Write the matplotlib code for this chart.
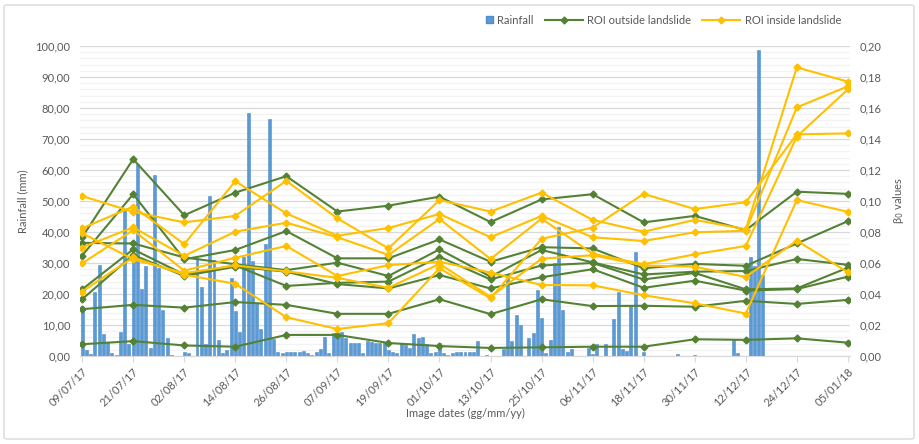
import matplotlib
matplotlib.use('Agg')
import matplotlib.pyplot as plt
from matplotlib.patches import FancyBboxPatch, Patch, Rectangle
from matplotlib.lines import Line2D
from matplotlib.legend_handler import HandlerPatch
from matplotlib.ticker import FuncFormatter, MultipleLocator
import matplotlib.dates as mdates
import pandas as pd

plt.rcParams['font.family'] = ['Lato', 'DejaVu Sans']

# daily rainfall (mm), one value per day from 09/07/2017
rain_start = '2017-07-09'
rainfall = [
    15.0, 2.0, 0.6, 20.8, 29.5, 7.0, 4.5, 1.0, 0.3, 7.6,
    47.0, 4.0, 33.0, 62.0, 21.5, 29.0, 2.5, 58.5, 28.5, 15.0,
    5.7, 0.3, 0.0, 0.0, 1.4, 0.9, 0.0, 31.5, 22.4, 3.9,
    51.6, 31.0, 5.2, 0.9, 1.9, 25.3, 14.6, 7.8, 32.0, 78.3,
    30.6, 17.0, 8.6, 36.0, 76.3, 5.4, 1.4, 0.9, 1.2, 1.4,
    1.4, 1.4, 1.6, 0.9, 0.3, 1.4, 2.1, 6.2, 0.9, 7.5,
    6.8, 7.6, 5.7, 4.3, 4.3, 4.3, 0.9, 4.8, 4.6, 4.3,
    4.3, 4.6, 1.9, 1.4, 0.9, 4.3, 3.5, 2.5, 7.1, 5.7,
    6.0, 3.9, 1.1, 1.4, 4.1, 0.9, 0.4, 0.9, 1.2, 1.4,
    1.4, 1.4, 1.4, 4.8, 0.0, 0.3, 0.0, 0.0, 0.0, 2.1,
    26.1, 4.8, 13.2, 10.0, 0.0, 5.9, 7.5, 21.3, 12.4, 0.9,
    5.2, 30.1, 41.5, 14.8, 1.4, 2.1, 0.0, 0.0, 0.0, 2.5,
    0.5, 3.9, 0.0, 3.9, 0.0, 11.9, 20.5, 2.1, 1.7, 16.5,
    33.7, 0.0, 1.4, 0.0, 0.0, 0.0, 0.0, 0.0, 0.0, 0.0,
    0.8, 0.0, 0.0, 0.0, 0.4, 0.0, 0.0, 0.0, 0.0, 0.0,
    0.0, 0.0, 0.0, 5.2, 0.9, 0.0, 0.0, 31.8, 29.0, 98.7,
    26.1,
]

# SAR image dates
image_dates = ['2017-07-09', '2017-07-21', '2017-08-02', '2017-08-14',
               '2017-08-26', '2017-09-07', '2017-09-19', '2017-10-01',
               '2017-10-13', '2017-10-25', '2017-11-06', '2017-11-18',
               '2017-11-30', '2017-12-12', '2017-12-24', '2018-01-05']

# beta0 values, ROIs outside the landslide
outside_1 = [0.0766, 0.1270, 0.0908, 0.1054, 0.1160, 0.0932, 0.0970, 0.1028,
             0.0864, 0.1010, 0.1044, 0.0862, 0.0904, 0.0812, 0.1060, 0.1046]
outside_2 = [0.0648, 0.1044, 0.0624, 0.0684, 0.0806, 0.0630, 0.0630, 0.0752,
             0.0608, 0.0702, 0.0694, 0.0566, 0.0594, 0.0582, 0.0726, 0.0870]
outside_3 = [0.0730, 0.0726, 0.0636, 0.0592, 0.0554, 0.0602, 0.0516, 0.0688,
             0.0512, 0.0684, 0.0604, 0.0526, 0.0544, 0.0548, 0.0626, 0.0588]
outside_4 = [0.0430, 0.0688, 0.0526, 0.0584, 0.0452, 0.0472, 0.0480, 0.0640,
             0.0494, 0.0584, 0.0600, 0.0494, 0.0536, 0.0430, 0.0436, 0.0570]
outside_5 = [0.0366, 0.0652, 0.0516, 0.0576, 0.0544, 0.0464, 0.0436, 0.0522,
             0.0436, 0.0508, 0.0560, 0.0440, 0.0486, 0.0422, 0.0432, 0.0512]
outside_6 = [0.0302, 0.0330, 0.0312, 0.0348, 0.0330, 0.0272, 0.0272, 0.0366,
             0.0270, 0.0366, 0.0322, 0.0324, 0.0318, 0.0356, 0.0336, 0.0362]
outside_7 = [0.0076, 0.0096, 0.0068, 0.0060, 0.0136, 0.0136, 0.0084, 0.0064,
             0.0052, 0.0056, 0.0060, 0.0060, 0.0108, 0.0104, 0.0114, 0.0086]

# beta0 values, ROIs inside the landslide
inside_1 = [0.0416, 0.0636, 0.0524, 0.0466, 0.0250, 0.0174, 0.0212, 0.0566,
            0.0372, 0.0756, 0.0828, 0.1046, 0.0948, 0.0992, 0.1430, 0.1436]
inside_2 = [0.1032, 0.0930, 0.0862, 0.0904, 0.1130, 0.0888, 0.0694, 0.1006,
            0.0932, 0.1054, 0.0878, 0.0802, 0.0878, 0.0818, 0.1862, 0.1770]
inside_3 = [0.0824, 0.0964, 0.0722, 0.1128, 0.0920, 0.0776, 0.0826, 0.0916,
            0.0766, 0.0904, 0.0766, 0.0742, 0.0798, 0.0808, 0.1604, 0.1740]
inside_4 = [0.0792, 0.0624, 0.0534, 0.0584, 0.0546, 0.0504, 0.0440, 0.0594,
            0.0382, 0.0628, 0.0650, 0.0584, 0.0576, 0.0510, 0.0744, 0.0540]
inside_5 = [0.0700, 0.0830, 0.0646, 0.0802, 0.0860, 0.0766, 0.0652, 0.0884,
            0.0626, 0.0886, 0.0660, 0.0592, 0.0656, 0.0710, 0.1416, 0.1720]
inside_6 = [0.0598, 0.0812, 0.0550, 0.0634, 0.0710, 0.0516, 0.0586, 0.0608,
            0.0538, 0.0458, 0.0456, 0.0392, 0.0340, 0.0274, 0.1006, 0.0930]

outside = [outside_1, outside_2, outside_3, outside_4, outside_5, outside_6, outside_7]
inside = [inside_1, inside_2, inside_3, inside_4, inside_5, inside_6]

blue = '#5B9BD5'
green = '#548235'
yellow = '#FFC000'
txt = '#595959'
grid = '#d9d9d9'
fs = 8

rain_dates = pd.date_range(rain_start, periods=len(rainfall), freq='D')
img_dates = pd.to_datetime(image_dates)

fig = plt.figure(figsize=(9.19, 4.44), dpi=100)
ax = fig.add_axes([80 / 919, 88 / 444, 770 / 919, 310 / 444])
ax2 = ax.twinx()

ax.bar(rain_dates, rainfall, width=0.7, color=blue, edgecolor='#4f8ccb',
       linewidth=0.4, zorder=3)

for s in outside:
    ax2.plot(img_dates, s, color=green, lw=1.5, marker='D', ms=3.5, zorder=3)
for s in inside:
    ax2.plot(img_dates, s, color=yellow, lw=1.5, marker='D', ms=3.5, zorder=4)

ax.set_ylim(0, 100)
ax2.set_ylim(0, 0.2)
ax.set_xlim(img_dates[0] - pd.Timedelta(hours=12), img_dates[-1] + pd.Timedelta(hours=12))

ax.yaxis.set_major_locator(MultipleLocator(10))
ax.yaxis.set_minor_locator(MultipleLocator(2))
ax2.yaxis.set_major_locator(MultipleLocator(0.02))
ax.yaxis.set_major_formatter(FuncFormatter(lambda v, p: f'{v:.2f}'.replace('.', ',')))
ax2.yaxis.set_major_formatter(FuncFormatter(lambda v, p: f'{v:.2f}'.replace('.', ',')))

ax.grid(axis='y', which='major', color=grid, lw=0.9, zorder=0)
ax.grid(axis='y', which='minor', color='#f2f2f2', lw=0.9, zorder=0)
ax.set_axisbelow(True)

ticks = pd.date_range(image_dates[0], image_dates[-1], freq='12D')
ax.set_xticks(ticks)
ax.xaxis.set_major_formatter(mdates.DateFormatter('%d/%m/%y'))
plt.setp(ax.get_xticklabels(), rotation=45, ha='right', rotation_mode='anchor')

for a in (ax, ax2):
    for side in ('top', 'left', 'right'):
        a.spines[side].set_visible(False)
    a.spines['bottom'].set_color(grid)
    a.tick_params(axis='y', length=0, labelsize=fs, labelcolor=txt, pad=7)
ax.tick_params(axis='x', length=4, color=grid, labelsize=fs, labelcolor=txt, pad=3)
ax.tick_params(axis='y', which='minor', length=0)

ax.set_ylabel('Rainfall (mm)', fontsize=fs, color=txt, labelpad=5)
ax2.set_ylabel('β$_0$ values', fontsize=fs, color=txt, labelpad=7)
ax.set_xlabel('Image dates (gg/mm/yy)', fontsize=fs, color=txt, labelpad=0)


# small square for the rainfall entry, placed right next to its text
def square(legend, orig_handle, xdescent, ydescent, width, height, fontsize):
    s = height * 0.9
    return Rectangle((-xdescent + width - s, -ydescent + (height - s) / 2), s, s)


handles = [Patch(facecolor=blue, edgecolor='#4f8ccb'),
           Line2D([], [], color=green, lw=1.5, marker='D', ms=3.5),
           Line2D([], [], color=yellow, lw=1.5, marker='D', ms=3.5)]
fig.legend(handles, ['Rainfall', 'ROI outside landslide', 'ROI inside landslide'],
           loc='center', bbox_to_anchor=(648 / 919, 1 - 20 / 444), ncol=3,
           frameon=False, fontsize=fs, labelcolor=txt, handlelength=3.4,
           columnspacing=1.0, handletextpad=0.4,
           handler_map={Patch: HandlerPatch(patch_func=square)})

fig.patches.append(FancyBboxPatch((4 / 919, 5 / 444), 910 / 919, 434 / 444,
                                  boxstyle='round,pad=0,rounding_size=0.004',
                                  transform=fig.transFigure, fill=False,
                                  edgecolor=grid, lw=1))

fig.savefig('out.png', dpi=100, facecolor='white')
